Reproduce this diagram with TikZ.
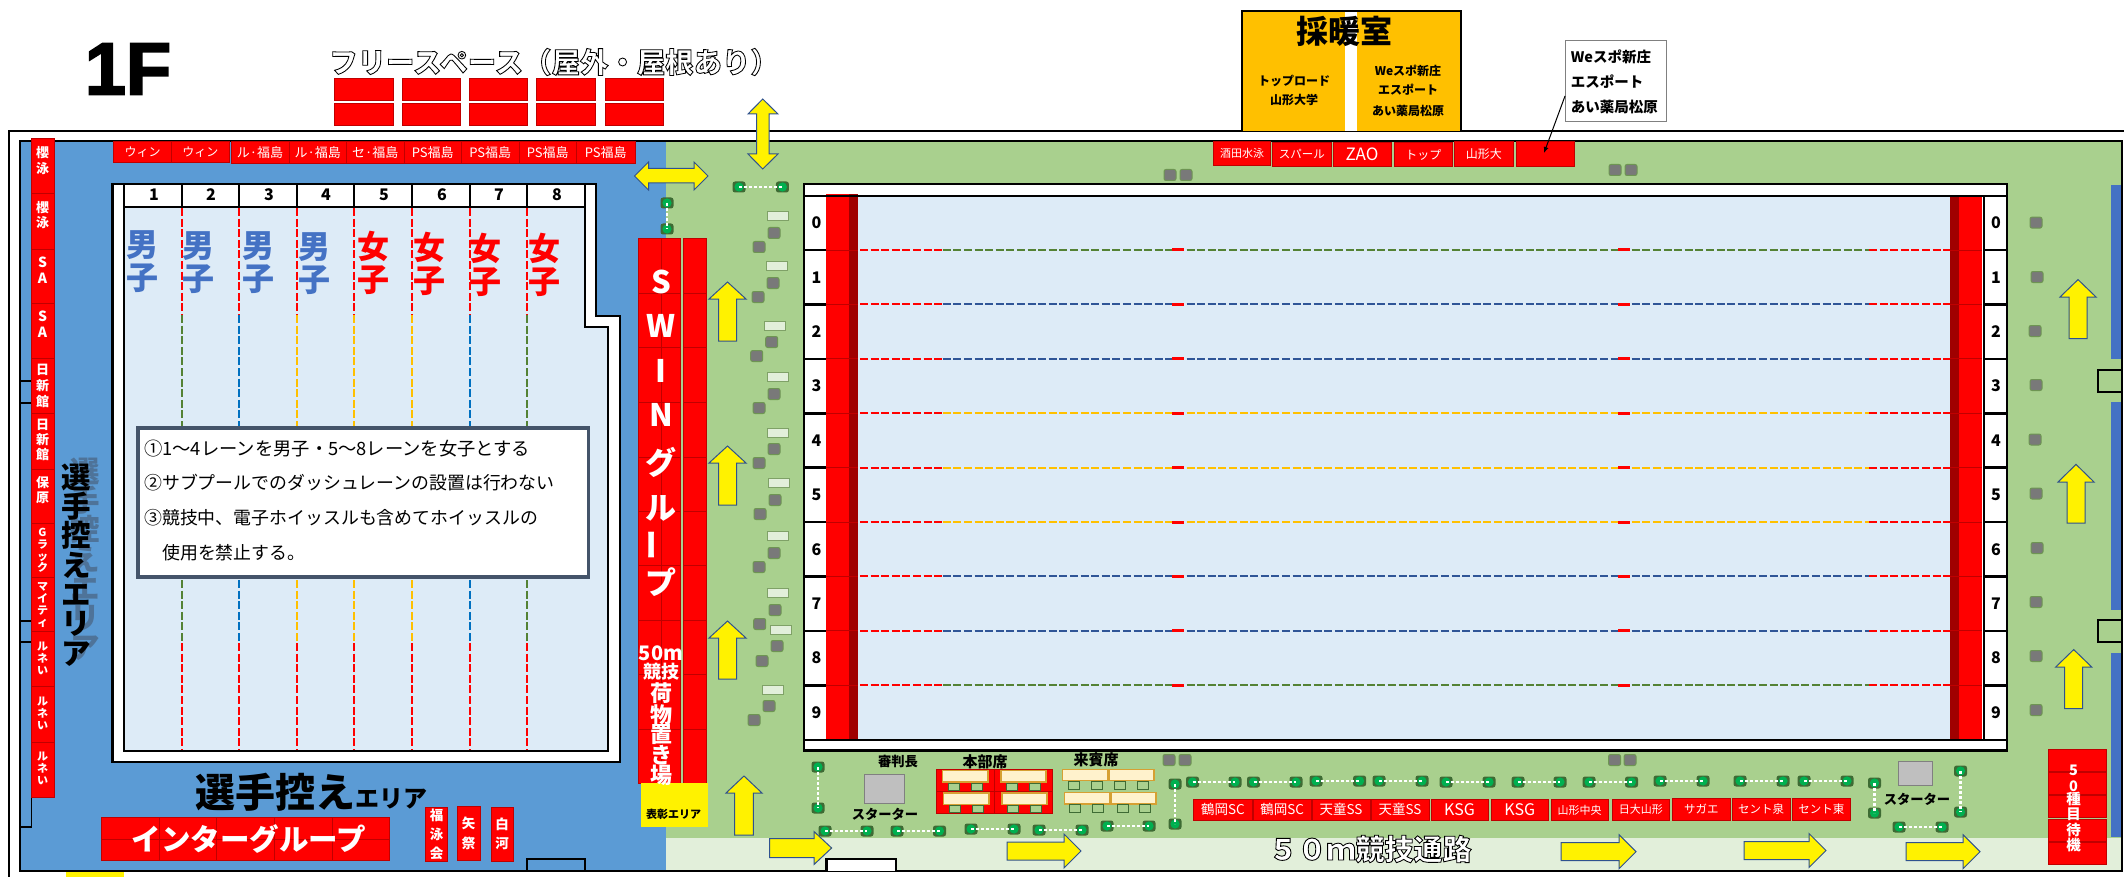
\documentclass[tikz,border=0pt]{standalone}
\usepackage{fontspec}
\usetikzlibrary{arrows.meta}
\setmainfont{Noto Sans CJK JP}
\newfontfamily\titlefont[UprightFont=* Bold,BoldFont=* Bold,FakeBold=2.5]{Liberation Sans}
\newfontfamily\outlfont[FakeBold=3]{Noto Sans CJK JP}
\newcommand\fs[1]{\fontsize{#1}{#1}\selectfont}
\newcommand\fsb[2]{\fontsize{#1}{#2}\selectfont}
\newcommand\outl[1]{\special{pdf:bcolor [1 1 1] [0 0 0]}#1\special{pdf:ecolor}}
\definecolor{poolblue}{HTML}{5B9BD5}
\definecolor{deckgreen}{HTML}{A9D08E}
\definecolor{passage}{HTML}{E2EFDA}
\definecolor{water}{HTML}{DDEBF7}
\definecolor{darkred}{HTML}{A00000}
\definecolor{edgered}{HTML}{C00000}
\definecolor{arrowedge}{HTML}{2F528F}
\definecolor{laneG}{HTML}{548235}
\definecolor{laneB}{HTML}{0070C0}
\definecolor{laneN}{HTML}{2F5597}
\definecolor{laneY}{HTML}{FFC000}
\definecolor{boyblue}{HTML}{4472C4}
\definecolor{slate}{HTML}{44546A}
\definecolor{conegreen}{HTML}{00B050}
\definecolor{coneedge}{HTML}{3E6B34}
\definecolor{cream}{HTML}{FFF2CC}
\definecolor{creamedge}{HTML}{D6A032}
\tikzset{
 wall/.style={draw=black,line width=2.6pt},
 redbox/.style={fill=red,draw=edgered,line width=.7pt},
 lbl/.style={text=white,inner sep=0pt,align=center},
 yarrow/.style={fill=yellow,draw=arrowedge,line width=1pt,line join=miter},
 stonebox/.style={rectangle,rounded corners=2pt,fill=gray!95!black,draw=laneG!85!white,line width=1pt,minimum width=12pt,minimum height=11pt,inner sep=0pt},
 palebox/.style={rectangle,fill=passage,draw=laneG!75!white,line width=1pt,minimum width=21pt,minimum height=9pt,inner sep=0pt},
 conebox/.style={rectangle,rounded corners=2.5pt,fill=coneedge,minimum width=13pt,minimum height=11pt,inner sep=0pt,
   path picture={\fill[conegreen] (path picture bounding box.center) circle (4.6pt);}},
 dotline/.style={draw=white,line width=2.4pt,dash pattern=on 3pt off 2pt},
 lanedash/.style={line width=2pt,dash pattern=on 8pt off 2.6pt},
 desk/.style={fill=cream,draw=creamedge,line width=1.1pt},
 chairA/.style={rectangle,fill=deckgreen,draw=coneedge,line width=.9pt,minimum width=11pt,minimum height=7.5pt,inner sep=0pt},
 txt/.style={inner sep=0pt,align=center},
}
\newcommand\uparr[6]{\draw[yarrow] ({#1},#2) -- ({#1+#5},#3) -- ({#1+#6},#3) -- ({#1+#6},#4) -- ({#1-#6},#4) -- ({#1-#6},#3) -- ({#1-#5},#3) -- cycle;}
\newcommand\rtarr[6]{\draw[yarrow] (#2,{#1}) -- (#3,{#1+#5}) -- (#3,{#1+#6}) -- (#4,{#1+#6}) -- (#4,{#1-#6}) -- (#3,{#1-#6}) -- (#3,{#1-#5}) -- cycle;}
\begin{document}
\begin{tikzpicture}[x=1pt,y=-1pt]
\useasboundingbox (0,0) rectangle (2124,877);
\fill[white] (0,0) rectangle (2124,877);
% floor
\fill[poolblue] (20,141) rectangle (666,871);
\fill[deckgreen] (666,141) rectangle (2122,838);
\fill[passage] (666,838) rectangle (2122,871);
\fill[yellow] (66,872) rectangle (124,877);
% walls
\draw[wall] (9,877) -- (9,131) -- (2124,131);
\draw[wall] (20,141) rectangle (2122,871);
\fill[white] (735,131.6) rectangle (803.5,140.4);
\draw[wall,line width=2pt] (20,381) -- (31,381) (20,403) -- (31,403) (20,621) -- (31,621) (20,642) -- (31,642);
\draw[black,line width=1.2pt] (31.7,797) -- (31.7,827) -- (20,827);
\draw[wall,line width=2pt] (527,871) -- (527,859) -- (585,859) -- (585,871);
\draw[wall,fill=white] (826.5,871) -- (826.5,859) -- (896,859) -- (896,871);
% heating room
\fill[laneY] (1242,11) rectangle (1461,131);
\fill[white] (1345,11) rectangle (1357,131);
\draw[wall] (1242,131) -- (1242,11) -- (1461,11) -- (1461,131);
\node[txt,font=\bfseries\fs{32}] (heat) at (1344,31) {採暖室};
\node[txt,font=\bfseries\fs{12}] (heatA) at (1294,81) {トップロード};
\node[txt,font=\bfseries\fs{12}] (heatB) at (1294,100) {山形大学};
\node[txt,font=\bfseries\fs{12}] (heatC) at (1408,71) {Weスポ新庄};
\node[txt,font=\bfseries\fs{12}] (heatD) at (1408,90) {エスポート};
\node[txt,font=\bfseries\fs{12}] (heatE) at (1408,111) {あい薬局松原};
% title
\node[txt,font=\titlefont\fs{74}] (title) at (128,69) {1F};
\node[txt,font=\outlfont\bfseries\fs{28.4}] (free) at (554,62) {\outl{フリースペース（屋外・屋根あり）}};
\foreach \a/\b in {334/393,402/460,469/527.5,536/595.5,605/663}{
 \draw[redbox] (\a,78) rectangle (\b,100);
 \draw[redbox] (\a,103) rectangle (\b,125);
}
% sub pool
\draw[wall,fill=white] (112.5,184) -- (596,184) -- (596,316) -- (620,316) -- (620,762) -- (112.5,762) -- cycle;
\draw[wall,fill=water] (124,207) -- (585,207) -- (585,327) -- (608,327) -- (608,751) -- (124,751) -- cycle;
\draw[wall] (124,184) -- (124,207) (585,184) -- (585,207);
\foreach \x/\c in {182/laneG,239/laneB,297/laneY,354/laneY,412/laneY,470/laneB,527/laneG}{
 \draw[wall] (\x,184) -- (\x,207);
 \draw[lanedash,red] (\x,208) -- (\x,315);
 \draw[lanedash,\c] (\x,315) -- (\x,643);
 \draw[lanedash,red] (\x,643) -- (\x,750);
}
\foreach \x [count=\i] in {154,211,269,326,384,442,499,557}{
 \node[txt,font=\bfseries\fs{16}] (sub\i) at (\x,194.5) {\i};
}
\foreach \x/\y [count=\i] in {142/262,198/263,258/263,314/264}{
 \node[txt,text=boyblue,font=\bfseries\fsb{32}{33}] (boy\i) at (\x,\y) {男\\子};
}
\foreach \x/\y [count=\i] in {373/263,429/264,485/265,544/265}{
 \node[txt,text=red,font=\bfseries\fsb{32}{33}] (girl\i) at (\x,\y) {女\\子};
}
% notes
\draw[draw=slate,line width=3.6pt,fill=white] (138,428) rectangle (588.5,577);
\node[txt,anchor=west,font=\fs{18.3}] (noteA) at (144,449) {①1～4レーンを男子・5～8レーンを女子とする};
\node[txt,anchor=west,font=\fs{17.9}] (noteB) at (144,483) {②サブプールでのダッシュレーンの設置は行わない};
\node[txt,anchor=west,font=\fs{17.9}] (noteC) at (144,518) {③競技中、電子ホイッスルも含めてホイッスルの};
\node[txt,anchor=west,font=\fs{17.9}] (noteD) at (162,553) {使用を禁止する。};
% top red row
\foreach \a/\b/\t/\f [count=\i] in {113.5/171.5/ウィン/12,171.5/229/ウィン/12}{
 \draw[redbox] (\a,141.5) rectangle node[lbl,font=\fs{\f}] (topa\i) {\t} (\b,162.5);
}
\foreach \a/\b/\t [count=\i] in {231/289/ル·福島,289/346.5/ル·福島,346.5/404/セ·福島,404/461.5/PS福島,461.5/519/PS福島,519/576.5/PS福島,576.5/635/PS福島}{
 \draw[redbox] (\a,141.5) rectangle node[lbl,font=\fs{13}] (topb\i) {\t} (\b,163.5);
}
% left red column
\foreach \a/\b [count=\i] in {138/193,193/249,249/303,303/358,358/413,413/469,469/523,523/577,577/631,631/686,686/742,742/797}{
 \draw[redbox] (31,\a) rectangle (54,\b);
}
\foreach \y/\t [count=\i] in {160.5/{櫻\\泳},215/{櫻\\泳}}{
 \node[lbl,font=\bfseries\fsb{13}{15.5}] (colA\i) at (42.5,\y) {\t};
}
\foreach \y/\t [count=\i] in {270/{S\\A},324/{S\\A}}{
 \node[lbl,font=\bfseries\fsb{14}{16}] (colB\i) at (42.5,\y) {\t};
}
\foreach \y/\t/\s/\f [count=\i] in {385.5/{日\\新\\館}/16/13,440/{日\\新\\館}/15/13,490/{保\\原}/15.5/13,550.5/{G\\ラ\\ッ\\ク}/11.8/11,605/{マ\\イ\\テ\\ィ}/11.8/11,658.5/{ル\\ネ\\い}/11.8/11,713.7/{ル\\ネ\\い}/11.8/11,768.5/{ル\\ネ\\い}/11.8/11}{
 \node[lbl,font=\bfseries\fsb{\f}{\s}] (colC\i) at (42.5,\y) {\t};
}
% waiting area labels
\node[txt,text=slate!75!poolblue,opacity=.75,font=\bfseries\fsb{29.5}{29.3}] (ghost) at (85,559) {選\\手\\控\\え\\エ\\リ\\ア};
\node[txt,font=\bfseries\fsb{29.5}{29.3}] (waitV) at (76,565) {選\\手\\控\\え\\エ\\リ\\ア};
\node[txt,anchor=base west,font=\bfseries\fs{40}] (waitH) at (195,807) {選手控え\fs{24}エリア};
% inter group
\draw[redbox] (101,817) rectangle (389.4,860.7);
\draw[edgered,line width=.8pt] (101,839) -- (389.4,839);
\foreach \x in {159,216.7,274.5,332}{\draw[edgered,line width=.8pt] (\x,817) -- (\x,860.7);}
\node[lbl,font=\bfseries\fs{29.5}] (inter) at (249,839) {インターグループ};
\draw[redbox] (425.6,807) rectangle node[lbl,font=\bfseries\fsb{13.5}{19}] (fuku) {福\\泳\\会} (447.6,861.5);
\draw[redbox] (457,806) rectangle node[lbl,font=\bfseries\fsb{13.5}{19.5}] (yama) {矢\\祭} (480,860.7);
\draw[redbox] (491,807) rectangle node[lbl,font=\bfseries\fsb{13.5}{19.5}] (shira) {白\\河} (513,861);
% SWIN column
\draw[redbox] (638,238) rectangle (680.5,783);
\draw[redbox] (683,238) rectangle (706,783);
\foreach \y in {293,347,402,457,511,565,620,674,729}{
 \draw[edgered,line width=.8pt] (638,\y) -- (680.5,\y) (683,\y) -- (706,\y);
}
\draw[edgered,line width=.8pt] (661,238) -- (661,783);
\fill[yellow] (641,783) rectangle (708,827);
\node[txt,font=\bfseries\fs{11}] (award) at (673.5,814) {表彰エリア};
\foreach \t/\y [count=\i] in {S/282,W/326,I/371,N/415,グ/462,ル/508,プ/582}{
 \node[lbl,font=\bfseries\fs{31}] (sw\i) at (661,\y) {\t};
}
\node[lbl,rotate=90,font=\bfseries\fs{31}] (swbar) at (656,545) {ー};
\node[lbl,font=\bfseries\fs{20}] (m50) at (661,653) {50m};
\node[lbl,font=\bfseries\fs{18}] (kyo) at (661,672) {競技};
\foreach \t/\y [count=\i] in {荷/693,物/715,置/735,き/755,場/775}{
 \node[lbl,font=\bfseries\fs{22}] (lug\i) at (661,\y) {\t};
}
% main pool
\draw[wall,fill=white] (804,184) rectangle (2007,750.7);
\fill[water] (858,196) rectangle (1950,740);
\fill[red] (825.6,194) rectangle (849,739);
\fill[darkred] (849,194) rectangle (858,739);
\fill[darkred] (1950,196) rectangle (1959,740);
\fill[red] (1959,196) rectangle (1982,740);
\draw[wall] (804,196) -- (2007,196) (804,740) -- (2007,740) (1984,196) -- (1984,740);
\foreach \c [count=\k] in {laneG,laneN,laneN,laneY,laneY,laneY,laneN,laneN,laneG}{
 \pgfmathsetmacro\ry{195.6+54.4*\k}
 \draw[wall] (804,\ry) -- (826,\ry) (1984,\ry) -- (2007,\ry);
 \draw[edgered,line width=.8pt] (826,\ry) -- (858,\ry) (1950,\ry) -- (1982,\ry);
 \draw[lanedash,red] (860,\ry) -- (942.7,\ry);
 \draw[lanedash,\c] (942.7,\ry) -- (1869,\ry);
 \draw[lanedash,red] (1869,\ry) -- (1950,\ry);
 \fill[red] (1172,\ry-1.5) rectangle (1184,\ry+1.5);
 \fill[red] (1618,\ry-1.5) rectangle (1630,\ry+1.5);
}
\foreach \k in {0,...,9}{
 \pgfmathsetmacro\ry{195.6+54.4*(\k+.5)}
 \node[txt,font=\bfseries\fs{16}] (ln\k) at (816.4,\ry) {\k};
 \node[txt,font=\bfseries\fs{16}] (rn\k) at (1996,\ry) {\k};
}
% north red row
\draw[redbox] (1213.6,141.7) rectangle node[lbl,font=\fs{11}] (sakata) {酒田水泳} (1270.5,165.7);
\draw[redbox] (1272.8,142.3) rectangle node[lbl,font=\fs{11.5}] (spar) {スパール} (1331,166.3);
\draw[redbox] (1333,142.3) rectangle node[lbl,font=\fs{17}] (zao) {ZAO} (1391,166.3);
\draw[redbox] (1394,142.7) rectangle node[lbl,font=\fs{12}] (topn) {トップ} (1452.7,166.7);
\draw[redbox] (1454.7,141.7) rectangle node[lbl,font=\fs{12}] (ydai) {山形大} (1513,166);
\draw[redbox] (1516,141.7) rectangle (1574.7,166);
\coordinate (blank) at (1544,153);
% callout
\draw[draw=gray,line width=1pt,fill=white] (1565,41) rectangle (1666,122);
\coordinate (callEdge) at (1565,96);
\node[txt,anchor=west,font=\bfseries\fs{14.5}] (callA) at (1570.7,57) {Weスポ新庄};
\node[txt,anchor=west,font=\bfseries\fs{14.5}] (callB) at (1570.7,82) {エスポート};
\node[txt,anchor=west,font=\bfseries\fs{14.5}] (callC) at (1570.7,107) {あい薬局松原};
\draw[black,line width=1pt,-{Latex[length=6pt,width=5pt]}] (callEdge) -- (blank);
% stones and pale boxes
\foreach \x/\y [count=\i] in {1170/175,1186/175,1615/170,1631/170,1169/760,1185/760,1614.5/760,1630/760,2036/222.6,2037/277,2035/331,2036/385,2035/439.5,2036/493.5,2037/548,2036/602,2036/656,2036/710,774/233,759/247,773/283,758/297,771.7/342,756.7/356,774/394,759/408,774/449,759/463,775/500,760/514,774/553,759/567,775/610,759.7/624,777/646,762/661,769/706,754/720}{
 \node[stonebox] (st\i) at (\x,\y) {};
}
\foreach \x/\y [count=\i] in {777.7/216,776.7/266,775.3/325.7,777.7/377,777.7/432.7,778.7/483,777.7/536,778/593,781/630,773/690}{
 \node[palebox] (pa\i) at (\x,\y) {};
}
% cones
\foreach \ax/\ay/\bx/\by [count=\n] in {
 739/187/782.4/187, 667/203/667/229, 818/767/818/808,
 825/831/867/831, 897/831/939.5/831, 971/829/1014/829, 1039/830/1082/830, 1107/826/1149/826,
 1175/784/1175/824, 1192.5/782/1235/782, 1253.5/782/1296/782, 1316/781/1359.6/781, 1379/781/1422/781,
 1446/782/1489/782, 1518/782/1560/782, 1589/782/1631.5/782, 1660/781/1703/781, 1740/781/1783/781, 1804/781/1847/781,
 1874.5/783/1874.5/813, 1960.5/771/1960.5/812, 1899/827/1942/827}{
 \node[conebox] (ca\n) at (\ax,\ay) {};
 \node[conebox] (cb\n) at (\bx,\by) {};
 \draw[dotline] (ca\n.center) -- (cb\n.center);
}
% head table
\node[txt,font=\bfseries\fs{13.3}] (judge) at (898,761.7) {審判長};
\draw[fill=gray!50,draw=gray,line width=1pt] (864.6,774) rectangle (904,803);
\node[txt,font=\bfseries\fs{13.3}] (starterA) at (885,814) {スターター};
\node[txt,font=\bfseries\fs{15}] (hq) at (985,761.7) {本部席};
\draw[redbox] (936,769) rectangle (1052,813);
\draw[edgered,line width=.8pt] (994.6,769) -- (994.6,813) (936,791) -- (1052,791);
\foreach \a/\b/\c/\d in {942.7/988/770.7/782,1001/1046/770.7/782,943.6/989/793/804.3,1002/1047/793/804.3,1062.5/1108/769.3/780.7,1109/1154/769.3/780.7,1064.4/1110/792.7/804,1111/1156/792.7/804}{
 \draw[desk] (\a,\c) rectangle (\b,\d);
}
\foreach \x/\y [count=\i] in {954/786.7,977/786.7,1012/786.7,1035/786.7,955/809,978/809,1013/809,1036/809,1073.5/785.3,1096.5/785.3,1120.4/785.3,1143/785.3,1075.4/808.3,1098.3/808.3,1122.7/808.3,1145/808.3}{
 \node[chairA] (ch\i) at (\x,\y) {};
}
\node[txt,font=\bfseries\fs{15}] (guest) at (1096,760) {来賓席};
% teams
\foreach \a/\b/\t/\f [count=\i] in {1193.8/1252/鶴岡SC/13.5,1253.5/1311/鶴岡SC/13.5,1312/1370/天童SS/13.5,1371/1429/天童SS/13.5,1431/1488/KSG/16,1491/1548.6/KSG/16,1551/1608.4/山形中央/11,1612/1669.5/日大山形/11}{
 \draw[redbox] (\a,799) rectangle node[lbl,font=\fs{\f}] (team\i) {\t} (\b,820.7);
}
\foreach \a/\b/\t [count=\i] in {1672.5/1730/サガエ,1732/1790/セント泉,1792/1850.6/セント東}{
 \draw[redbox] (\a,798) rectangle node[lbl,font=\fs{11.5}] (teamB\i) {\t} (\b,820);
}
\node[txt,font=\bfseries\fs{13.3}] (starterB) at (1917,799) {スターター};
\draw[fill=gray!50,draw=gray,line width=1pt] (1898.6,761) rectangle (1932,785.7);
% 50 waiting
\foreach \a/\b in {749/771,772/794,795/817,819/841,842/864}{
 \draw[redbox] (2048,\a) rectangle (2106,\b);
}
\foreach \t/\y [count=\i] in {5/770,0/786,種/799,目/814,待/830,機/845}{
 \node[lbl,font=\bfseries\fs{14.5}] (wt\i) at (2073.5,\y) {\t};
}
% right wall
\fill[boyblue] (2111,185) rectangle (2120.5,359);
\fill[boyblue] (2111,402) rectangle (2120.5,610);
\fill[boyblue] (2111,653) rectangle (2120.5,837);
\draw[wall,line width=2pt] (2122,369.5) -- (2098,369.5) -- (2098,392) -- (2122,392);
\draw[wall,line width=2pt] (2122,620) -- (2098,620) -- (2098,642) -- (2122,642);
% passage label
\node[txt,font=\outlfont\bfseries\fs{29}] (course) at (1370,849) {\outl{５０ｍ競技通路}};
% arrows
\uparr{727.5}{282}{299}{341}{18.5}{9}
\uparr{727.5}{446}{463}{505}{18.5}{9}
\uparr{727.5}{621}{638}{679}{18.5}{9}
\uparr{744}{776}{793}{835}{18}{9.3}
\uparr{2078}{279.6}{297}{338.5}{18}{9}
\uparr{2076}{464.4}{482}{523}{18}{9}
\uparr{2073.7}{649.6}{667}{708.6}{18}{9}
\rtarr{848}{831.6}{814}{769.6}{16.5}{9.5}
\rtarr{851}{1081}{1064}{1007}{17}{9}
\rtarr{851.7}{1636}{1619}{1561}{17}{9}
\rtarr{850.5}{1826}{1809}{1744}{17}{9}
\rtarr{851.7}{1980}{1963}{1906}{17}{9}
% double arrows
\draw[yarrow] (634.5,176) -- (648.5,162) -- (648.5,168.5) -- (694,168.5) -- (694,162) -- (708,176) -- (694,190) -- (694,183) -- (648.5,183) -- (648.5,190) -- cycle;
\draw[yarrow] (762.7,99) -- (778,114) -- (769,114) -- (769,154) -- (778,154) -- (762.7,169) -- (748,154) -- (756.5,154) -- (756.5,114) -- (748,114) -- cycle;
\end{tikzpicture}
\end{document}
